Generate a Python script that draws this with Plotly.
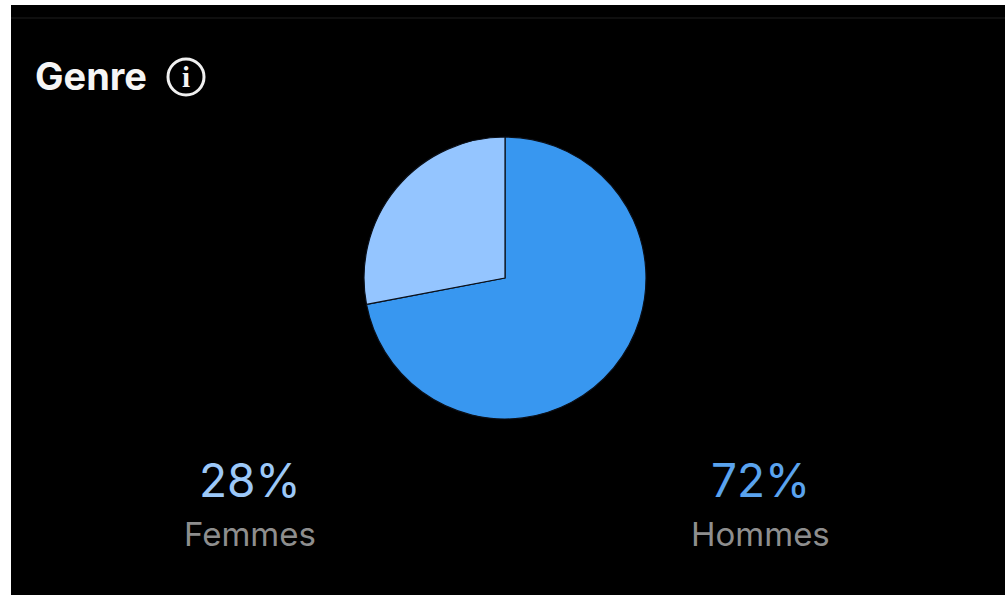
import plotly.graph_objects as go

W, H = 1005, 595

# Audience split by gender
categories = ["Hommes", "Femmes"]
values = [72, 28]
slice_colors = ["#3897F0", "#94C5FF"]
value_colors = ["#5AA3EE", "#9CC8F8"]
label_x = [760, 250]


def px(x):
    return x / W


def py(y):
    return 1 - y / H


fig = go.Figure(
    go.Pie(
        labels=categories,
        values=values,
        sort=False,
        direction="clockwise",
        rotation=0,
        textinfo="none",
        hoverinfo="label+percent",
        showlegend=False,
        marker=dict(colors=slice_colors, line=dict(color="#0a0f18", width=1.2)),
        domain=dict(x=[px(364), px(646)], y=[py(419), py(137)]),
    )
)

annotations = [
    dict(x=px(33), y=py(76), text="<b>Genre</b>", xanchor="left", yanchor="middle",
         showarrow=False, font=dict(family="Inter", size=38, color="#F5F5F5")),
    dict(x=px(186), y=py(77), text="<b>i</b>", xanchor="center", yanchor="middle",
         showarrow=False, font=dict(family="Liberation Serif", size=29, color="#F5F5F5")),
]
for name, value, vcolor, x in zip(categories, values, value_colors, label_x):
    annotations.append(dict(x=px(x), y=py(480), text=f"{value}%", xanchor="center", yanchor="middle",
                            showarrow=False, font=dict(family="Inter", size=46, color=vcolor)))
    annotations.append(dict(x=px(x), y=py(534), text=name, xanchor="center", yanchor="middle",
                            showarrow=False, font=dict(family="Inter", size=33, color="#8E8E8E")))

shapes = [
    # dark card with a thin white edge along the top and left
    dict(type="rect", xref="paper", yref="paper", x0=px(11), x1=1, y0=0, y1=py(5),
         fillcolor="#000000", line=dict(width=0), layer="below"),
    dict(type="line", xref="paper", yref="paper", x0=px(11), x1=1, y0=py(18), y1=py(18),
         line=dict(color="#151515", width=1.5), layer="below"),
    # info icon ring
    dict(type="circle", xref="paper", yref="paper", x0=px(168), x1=px(204), y0=py(95), y1=py(59),
         line=dict(color="#F0F0F0", width=3), fillcolor="rgba(0,0,0,0)"),
]

fig.update_layout(
    width=W,
    height=H,
    margin=dict(l=0, r=0, t=0, b=0),
    paper_bgcolor="#FFFFFF",
    plot_bgcolor="#000000",
    annotations=annotations,
    shapes=shapes,
)

fig.write_html("out.html", config=dict(displayModeBar=False))
